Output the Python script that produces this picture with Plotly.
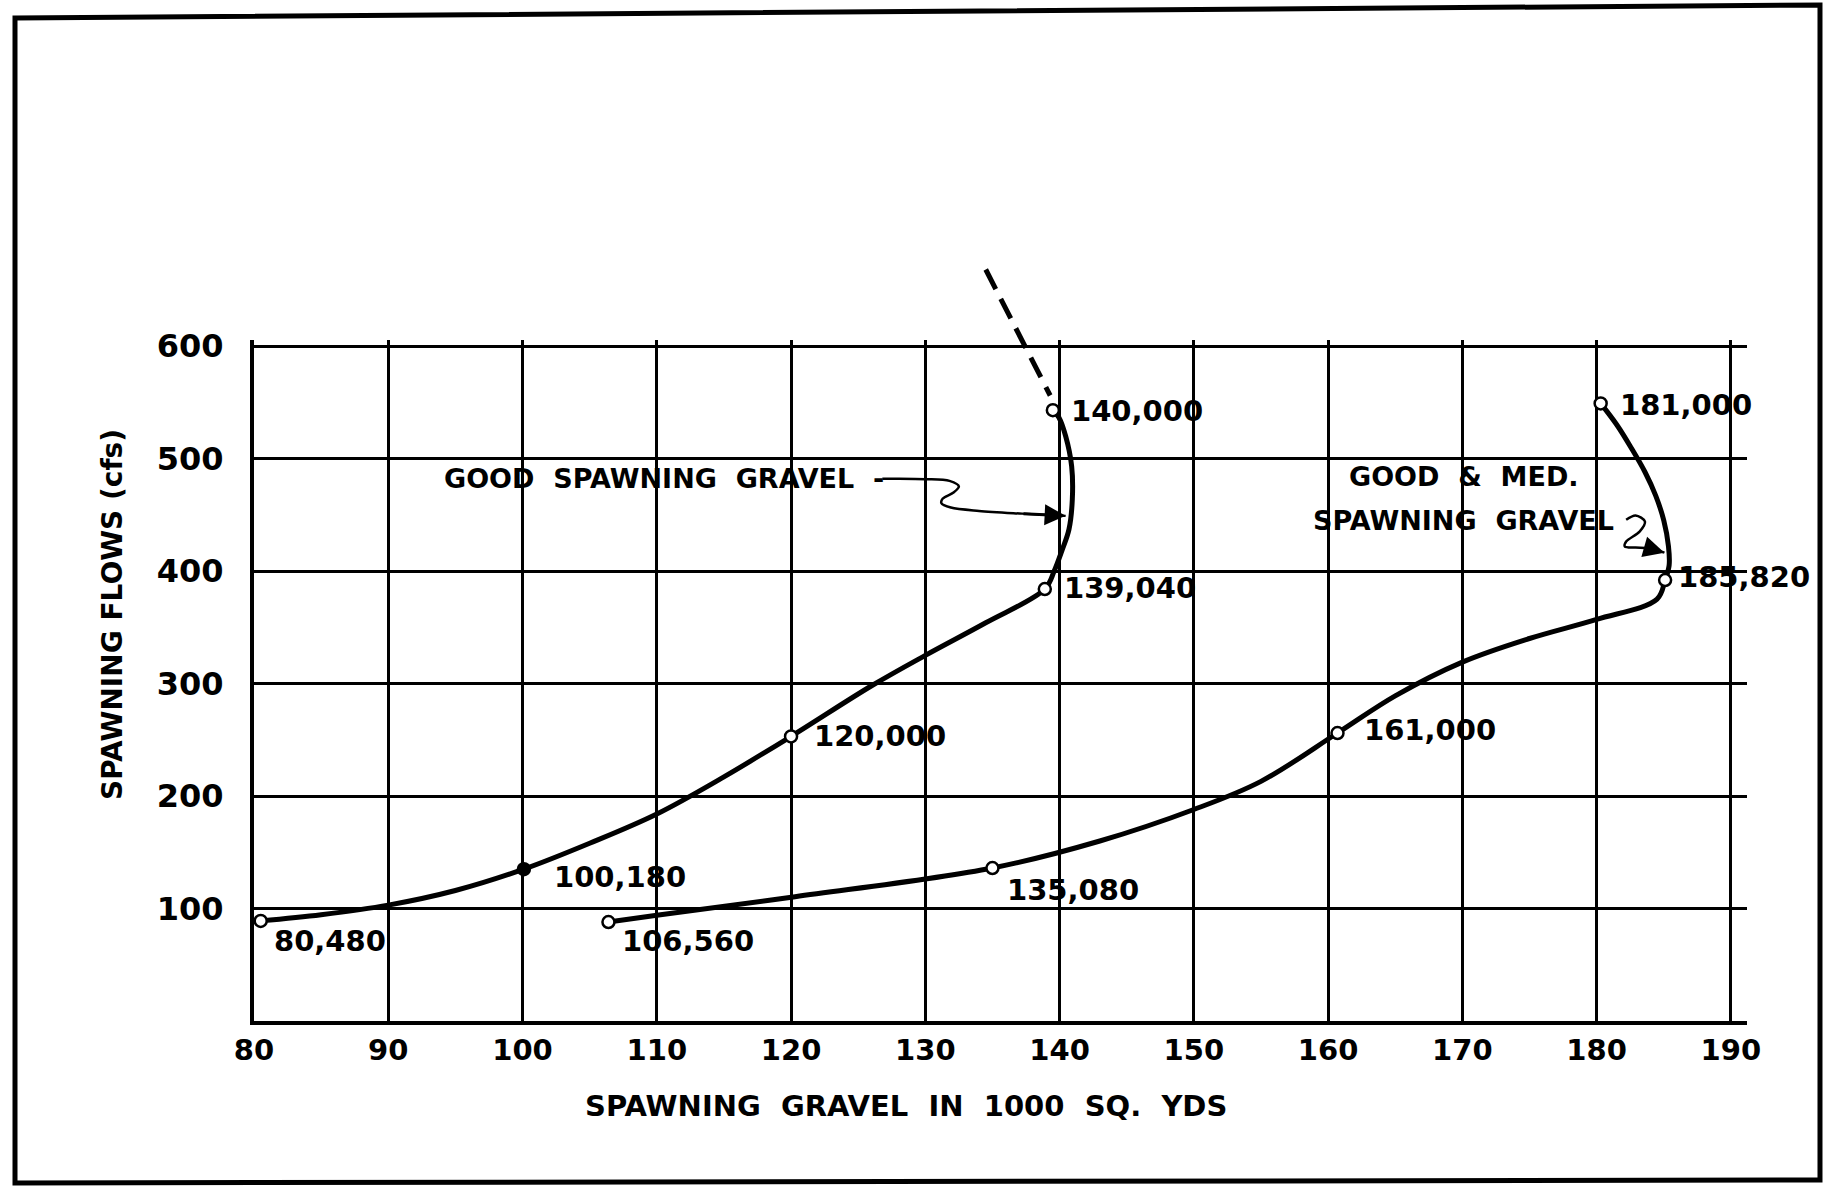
import plotly.graph_objects as go

# ---------------- data ----------------
x_ticks = [80, 90, 100, 110, 120, 130, 140, 150, 160, 170, 180, 190]
y_ticks = [100, 200, 300, 400, 500, 600]

# "Good spawning gravel" curve
good_pts_x = [80.5, 100.1, 120.0, 138.9, 139.5]
good_pts_y = [89, 135, 253, 384, 543]
good_labels = ["80,480", "100,180", "120,000", "139,040", "140,000"]
good_filled = [False, True, False, False, False]

good_curve_x = [80.5, 85.0, 90.0, 95.0, 100.1, 105.0, 110.0, 115.0, 120.0, 126.0, 130.0,
                134.5, 138.9, 139.6, 140.2, 140.7, 140.95, 140.9, 140.45, 139.95, 139.5]
good_curve_y = [89, 94.5, 103, 116, 135, 158, 184, 217, 253, 298, 325,
                354, 384, 400, 419, 437, 464, 493, 520, 536.5, 543]

# dashed extension above 140,000
extrap_x = [134.5, 139.3]
extrap_y = [668, 556]

# "Good & med. spawning gravel" curve
med_pts_x = [106.4, 135.0, 160.7, 185.1, 180.3]
med_pts_y = [88, 136, 256, 392, 549]
med_labels = ["106,560", "135,080", "161,000", "185,820", "181,000"]

med_curve_x = [106.4, 110.0, 120.3, 135.0, 143.0, 150.0, 155.0, 160.7, 165.0, 170.0,
               175.0, 180.0, 184.5, 185.1, 185.4, 185.35, 185.0, 184.4, 183.6, 182.6,
               181.5, 180.3]
med_curve_y = [88, 94, 110.5, 136, 160, 188, 213, 256, 289, 319,
               340, 357, 375, 392, 405, 422, 445, 467, 488, 509,
               530, 549]

# hand-drawn leader lines of the two notes
leader1_x = [126.8, 127.8, 130.0, 131.8, 132.5, 132.1, 131.3, 131.2, 131.9, 134.0, 137.2, 140.45]
leader1_y = [482, 482, 481.6, 480.1, 475.1, 469.7, 464.4, 460.2, 456.4, 453.4, 451.0, 449.0]
leader2_x = [182.2, 182.9, 183.6, 183.2, 182.2, 182.1, 182.9, 183.9, 185.05]
leader2_y = [445.5, 449.4, 444, 435, 426.2, 421.7, 420.8, 420.2, 416.3]

note1 = "GOOD\u00a0\u00a0SPAWNING\u00a0\u00a0GRAVEL"
note2_a = "GOOD\u00a0\u00a0&\u00a0\u00a0MED."
note2_b = "SPAWNING\u00a0\u00a0GRAVEL"
note2_pos = (170.1, 484, 445)   # x, y of first line, y of second line

x_title = "SPAWNING\u00a0\u00a0GRAVEL\u00a0\u00a0IN\u00a0\u00a01000\u00a0\u00a0SQ.\u00a0\u00a0YDS"
y_title = "SPAWNING FLOWS (cfs)"

# ---------------- style / layout constants ----------------
W, H = 1829, 1186
L_PX, R_PX = 254, 1747          # plot area left / right (x = 80 / 191.2)
TOP_PX, BOT_PX = 200, 1021       # full drawing area top / bottom (y = 0 at bottom)
X_RANGE = [80, 191.2]
Y_MAX = 605
PPU_Y = (1021 - 346) / 600.0
main_top_px = BOT_PX - Y_MAX * PPU_Y
dom_top = (BOT_PX - main_top_px) / (BOT_PX - TOP_PX)
Y2_MAX = Y_MAX / dom_top

FONT = "DejaVu Sans"
INK = "black"

good_off = [(11, -20), (28, -8), (21, 0), (17, 1), (16, -1)]
med_off = [(12, -19), (13, -22), (24, 3), (11, 3), (17, -2)]

fig = go.Figure()

# curves
for cx, cy in [(good_curve_x, good_curve_y), (med_curve_x, med_curve_y)]:
    fig.add_trace(go.Scatter(x=cx, y=cy, mode="lines",
                             line=dict(color=INK, width=5, shape="spline", smoothing=1.0),
                             hoverinfo="skip", showlegend=False))

# leaders
for lx, ly in [(leader1_x, leader1_y), (leader2_x, leader2_y)]:
    fig.add_trace(go.Scatter(x=lx, y=ly, mode="lines",
                             line=dict(color=INK, width=2.5, shape="spline", smoothing=0.9),
                             hoverinfo="skip", showlegend=False))

# markers
fig.add_trace(go.Scatter(x=good_pts_x, y=good_pts_y, mode="markers",
                         marker=dict(symbol="circle", size=12,
                                     color=[INK if f else "white" for f in good_filled],
                                     line=dict(color=INK, width=2.5)),
                         showlegend=False))
fig.add_trace(go.Scatter(x=med_pts_x, y=med_pts_y, mode="markers",
                         marker=dict(symbol="circle", size=12, color="white",
                                     line=dict(color=INK, width=2.5)),
                         showlegend=False))

# dashed extension drawn on an invisible taller subplot with identical scale
fig.add_trace(go.Scatter(x=extrap_x, y=extrap_y, mode="lines", xaxis="x2", yaxis="y2",
                         line=dict(color=INK, width=5, dash="22px,11px"),
                         hoverinfo="skip", showlegend=False))

ann = []
lab_font = dict(family=FONT, size=29, color=INK, weight="bold")
for xs, ys, labs, offs in [(good_pts_x, good_pts_y, good_labels, good_off),
                           (med_pts_x, med_pts_y, med_labels, med_off)]:
    for x, y, t, (dx, dy) in zip(xs, ys, labs, offs):
        ann.append(dict(x=x, y=y, xref="x", yref="y", text=t, showarrow=False,
                        xanchor="left", yanchor="middle", xshift=dx, yshift=dy,
                        font=lab_font))

note_font = dict(family=FONT, size=27, color=INK, weight="bold")
ann.append(dict(x=leader1_x[0], y=leader1_y[0], xref="x", yref="y", text=note1 + "\u00a0\u00a0-",
                showarrow=False, xanchor="right", yanchor="middle", xshift=4, font=note_font))
ann.append(dict(x=note2_pos[0], y=note2_pos[1], xref="x", yref="y", text=note2_a,
                showarrow=False, xanchor="center", yanchor="middle", font=note_font))
ann.append(dict(x=note2_pos[0], y=note2_pos[2], xref="x", yref="y", text=note2_b,
                showarrow=False, xanchor="center", yanchor="middle", font=note_font))

# arrowheads of the leaders
for lx, ly in [(leader1_x, leader1_y), (leader2_x, leader2_y)]:
    ann.append(dict(x=lx[-1], y=ly[-1], ax=lx[-2], ay=ly[-2], xref="x", yref="y",
                    axref="x", ayref="y", text="", showarrow=True, arrowhead=2,
                    arrowsize=1.4, arrowwidth=3, arrowcolor=INK))


def px_to_paper_x(px):
    return (px - L_PX) / (R_PX - L_PX)


def px_to_paper_y(py):
    return (BOT_PX - py) / (BOT_PX - TOP_PX)


# axis titles
ann.append(dict(x=px_to_paper_x(906), y=px_to_paper_y(1106), xref="paper", yref="paper",
                text=x_title, showarrow=False, xanchor="center", yanchor="middle",
                font=dict(family=FONT, size=29, color=INK, weight="bold")))
ann.append(dict(x=px_to_paper_x(112), y=px_to_paper_y(615), xref="paper", yref="paper",
                text=y_title, showarrow=False, xanchor="center", yanchor="middle",
                textangle=-90, font=dict(family=FONT, size=28, color=INK, weight="bold")))

# page frame of the scanned sheet
frame_px = [(15, 18), (1820, 5), (1820, 1180), (15, 1183)]
path = "M " + " L ".join(f"{px_to_paper_x(a):.5f},{px_to_paper_y(b):.5f}" for a, b in frame_px) + " Z"
shapes = [dict(type="path", xref="paper", yref="paper", path=path,
               line=dict(color=INK, width=5), fillcolor="rgba(0,0,0,0)", layer="below")]

fig.update_layout(
    width=W, height=H,
    margin=dict(l=L_PX, r=W - R_PX, t=TOP_PX, b=H - BOT_PX, autoexpand=False),
    paper_bgcolor="white", plot_bgcolor="rgba(0,0,0,0)",
    showlegend=False,
    xaxis=dict(domain=[0, 1], range=X_RANGE, tickvals=x_ticks, ticktext=[str(v) for v in x_ticks],
               showgrid=True, gridcolor=INK, gridwidth=2.5, zeroline=False,
               showline=True, linecolor=INK, linewidth=4, ticks="",
               tickfont=dict(family=FONT, size=29, color=INK, weight="bold"),
               ticklabelstandoff=0, anchor="y", fixedrange=True),
    yaxis=dict(domain=[0, dom_top], range=[0, Y_MAX], tickvals=y_ticks,
               showgrid=True, gridcolor=INK, gridwidth=2.5, zeroline=False,
               showline=True, linecolor=INK, linewidth=4, ticks="",
               tickfont=dict(family=FONT, size=32, color=INK, weight="bold"),
               ticklabelstandoff=20, anchor="x", fixedrange=True),
    xaxis2=dict(domain=[0, 1], range=X_RANGE, visible=False, anchor="y2", fixedrange=True),
    yaxis2=dict(domain=[0, 1], range=[0, Y2_MAX], visible=False, anchor="x2", fixedrange=True),
    annotations=ann,
    shapes=shapes,
)

fig.write_html("out.html",
               config={"displayModeBar": False},
               post_script="document.body.style.margin='0px';document.body.style.overflow='hidden';")
